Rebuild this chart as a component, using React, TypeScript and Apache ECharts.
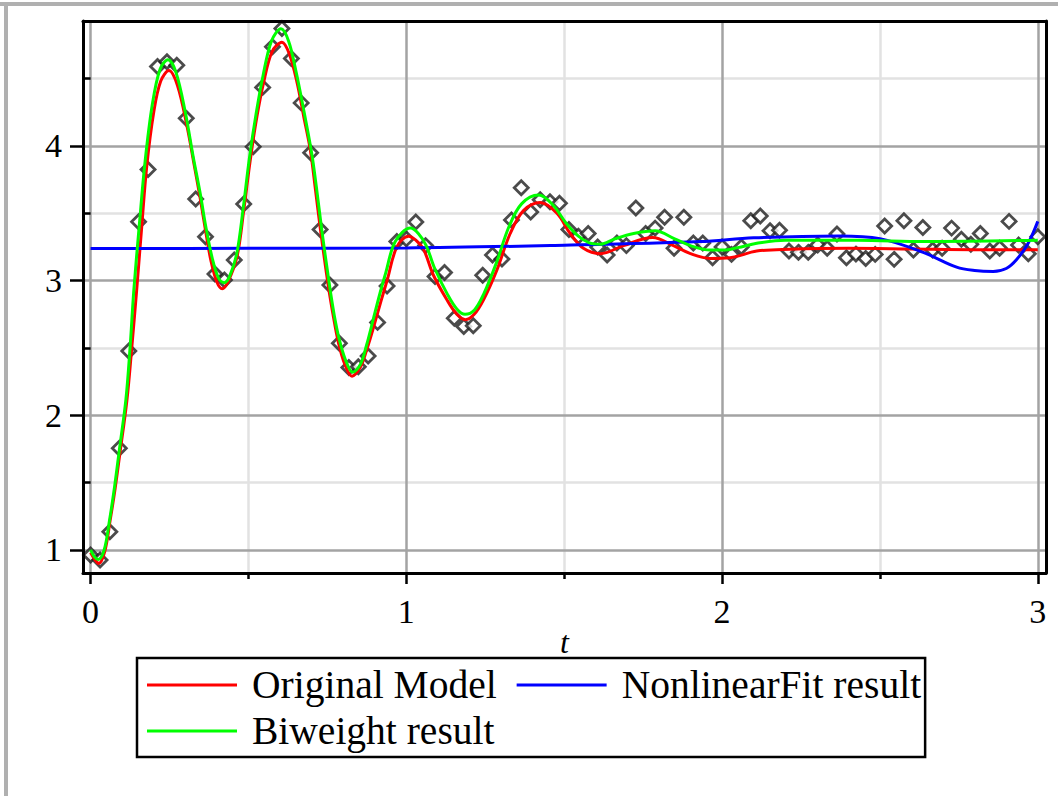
import React, { useEffect, useRef } from "react";
import * as echarts from "echarts";

// ---- data ----
const sampleT = [
  0, 0.03, 0.061, 0.091, 0.121, 0.152, 0.182, 0.212, 0.242, 0.273,
  0.303, 0.333, 0.364, 0.394, 0.424, 0.455, 0.485, 0.515, 0.545, 0.576,
  0.606, 0.636, 0.667, 0.697, 0.727, 0.758, 0.788, 0.818, 0.848, 0.879,
  0.909, 0.939, 0.97, 1.0, 1.03, 1.061, 1.091, 1.121, 1.152, 1.182,
  1.212, 1.242, 1.273, 1.303, 1.333, 1.364, 1.394, 1.424, 1.455, 1.485,
  1.515, 1.545, 1.576, 1.606, 1.636, 1.667, 1.697, 1.727, 1.758, 1.788,
  1.818, 1.848, 1.879, 1.909, 1.939, 1.97, 2.0, 2.03, 2.061, 2.091,
  2.121, 2.152, 2.182, 2.212, 2.242, 2.273, 2.303, 2.333, 2.364, 2.394,
  2.424, 2.455, 2.485, 2.515, 2.545, 2.576, 2.606, 2.636, 2.667, 2.697,
  2.727, 2.758, 2.788, 2.818, 2.848, 2.879, 2.909, 2.939, 2.97, 3.0,
];
const sampleY = [
  0.963, 0.926, 1.136, 1.755, 2.477, 3.437, 3.826, 4.59, 4.625, 4.6,
  4.205, 3.606, 3.326, 3.049, 3.004, 3.153, 3.569, 3.994, 4.435, 4.736,
  4.873, 4.65, 4.32, 3.95, 3.38, 2.967, 2.535, 2.355, 2.36, 2.44,
  2.69, 2.96, 3.29, 3.31, 3.435, 3.26, 3.03, 3.06, 2.72, 2.66,
  2.665, 3.04, 3.19, 3.16, 3.45, 3.69, 3.51, 3.6, 3.586, 3.574,
  3.38, 3.33, 3.35, 3.25, 3.19, 3.28, 3.26, 3.54, 3.35, 3.39,
  3.47, 3.24, 3.47, 3.28, 3.28, 3.17, 3.25, 3.195, 3.25, 3.445,
  3.48, 3.37, 3.375, 3.22, 3.21, 3.21, 3.264, 3.24, 3.346, 3.17,
  3.197, 3.165, 3.195, 3.405, 3.158, 3.445, 3.227, 3.395, 3.227, 3.24,
  3.39, 3.307, 3.27, 3.35, 3.22, 3.24, 3.44, 3.264, 3.2, 3.326,
];

const originalT = [
  0, 0.013, 0.026, 0.045, 0.062, 0.078, 0.093, 0.115, 0.13, 0.146,
  0.162, 0.178, 0.2, 0.222, 0.248, 0.275, 0.306, 0.328, 0.348, 0.365,
  0.381, 0.4, 0.417, 0.435, 0.464, 0.485, 0.506, 0.527, 0.548, 0.575,
  0.606, 0.63, 0.654, 0.675, 0.696, 0.712, 0.728, 0.753, 0.77, 0.785,
  0.805, 0.828, 0.855, 0.875, 0.897, 0.92, 0.939, 0.97, 1.007, 1.03,
  1.055, 1.086, 1.128, 1.16, 1.187, 1.215, 1.245, 1.287, 1.329, 1.371,
  1.424, 1.477, 1.519, 1.561, 1.614, 1.688, 1.78, 1.846, 1.9, 1.962,
  2.025, 2.11, 2.215, 2.4, 2.6, 2.8, 3.0,
];
const originalY = [
  0.98, 0.93, 0.9, 0.99, 1.22, 1.46, 1.72, 2.11, 2.49, 2.93,
  3.4, 3.85, 4.25, 4.48, 4.56, 4.45, 4.14, 3.86, 3.6, 3.36,
  3.15, 2.99, 2.94, 2.99, 3.18, 3.52, 3.9, 4.22, 4.47, 4.7,
  4.77, 4.68, 4.47, 4.22, 3.97, 3.68, 3.38, 2.96, 2.72, 2.54,
  2.38, 2.29, 2.36, 2.49, 2.66, 2.85, 3.0, 3.25, 3.33, 3.3,
  3.23, 3.04, 2.86, 2.75, 2.71, 2.75, 2.86, 3.08, 3.35, 3.52,
  3.58, 3.5, 3.35, 3.24, 3.2, 3.26, 3.32, 3.26, 3.2, 3.165,
  3.17, 3.22, 3.233, 3.24, 3.235, 3.23, 3.23,
];

const biweightT = [
  0, 0.012, 0.024, 0.043, 0.06, 0.076, 0.091, 0.112, 0.125, 0.137,
  0.155, 0.172, 0.195, 0.22, 0.245, 0.27, 0.3, 0.325, 0.347, 0.365,
  0.385, 0.405, 0.423, 0.44, 0.463, 0.483, 0.503, 0.525, 0.546, 0.573,
  0.603, 0.627, 0.65, 0.669, 0.7, 0.716, 0.732, 0.757, 0.772, 0.787,
  0.806, 0.83, 0.855, 0.874, 0.895, 0.917, 0.935, 0.965, 1.013, 1.038,
  1.063, 1.09, 1.13, 1.16, 1.186, 1.215, 1.245, 1.285, 1.325, 1.365,
  1.419, 1.465, 1.505, 1.545, 1.58, 1.614, 1.66, 1.72, 1.788, 1.85,
  1.9, 1.962, 2.004, 2.05, 2.11, 2.2, 2.43, 2.64, 3.0,
];
const biweightY = [
  1.0, 0.95, 0.93, 1.0, 1.22, 1.47, 1.74, 2.12, 2.5, 2.93,
  3.43, 3.87, 4.3, 4.57, 4.64, 4.55, 4.25, 3.92, 3.65, 3.4,
  3.17, 3.02, 2.985, 3.03, 3.2, 3.53, 3.91, 4.25, 4.52, 4.78,
  4.87, 4.78, 4.56, 4.34, 3.95, 3.68, 3.38, 2.96, 2.74, 2.57,
  2.42, 2.32, 2.38, 2.52, 2.71, 2.91, 3.06, 3.29, 3.39, 3.35,
  3.26, 3.09, 2.9, 2.79, 2.75, 2.78, 2.9, 3.13, 3.4, 3.57,
  3.635, 3.56, 3.43, 3.33, 3.28, 3.27, 3.31, 3.35, 3.37, 3.31,
  3.26, 3.227, 3.227, 3.245, 3.277, 3.3, 3.3, 3.29, 3.3,
];

const nonlinearT = [0, 0.5, 1.0, 1.5, 1.93, 2.1, 2.37, 2.5, 2.637, 2.743, 2.8, 2.859, 2.9, 2.933, 2.97, 3.0];
const nonlinearY = [3.238, 3.24, 3.243, 3.263, 3.29, 3.318, 3.332, 3.312, 3.21, 3.1, 3.075, 3.068, 3.09, 3.157, 3.28, 3.44];

const xMajorTicks = [0, 1, 2, 3];
const xMinorTicks = [0.5, 1.5, 2.5];
const yMajorTicks = [1, 2, 3, 4];
const yMinorTicks = [1.5, 2.5, 3.5, 4.5];

const legendNames = ["Original Model", "NonlinearFit result", "Biweight result"];

const X_MIN = -0.024;
const X_MAX = 3.026;
const Y_MIN = 0.829;
const Y_MAX = 4.928;

const FONT = "'Liberation Serif', 'Times New Roman', serif";

const pairs = (xs: number[], ys: number[]) => xs.map((x, i) => [x, ys[i]]);

export default function App() {
  const ref = useRef<HTMLDivElement>(null);

  useEffect(() => {
    if (!ref.current) return;
    const chart = echarts.init(ref.current, undefined, { renderer: "svg" });

    const baseX = { type: "value", min: X_MIN, max: X_MAX, z: 10 };
    const baseY = { type: "value", min: Y_MIN, max: Y_MAX, z: 10 };
    const frameLine = { show: true, onZero: false, lineStyle: { color: "#000", width: 3 } };
    const tickStyle = { color: "#000", width: 2.5 };

    const gridLineData = [
      ...xMinorTicks.map((v) => ({ xAxis: v, lineStyle: { color: "#e2e2e2", width: 2.5, type: "solid" } })),
      ...yMinorTicks.map((v) => ({ yAxis: v, lineStyle: { color: "#e2e2e2", width: 2.5, type: "solid" } })),
      ...xMajorTicks.map((v) => ({ xAxis: v, lineStyle: { color: "#a3a3a3", width: 2.5, type: "solid" } })),
      ...yMajorTicks.map((v) => ({ yAxis: v, lineStyle: { color: "#a3a3a3", width: 2.5, type: "solid" } })),
    ];

    const legendText = { fontFamily: FONT, fontSize: 39.5, color: "#000", padding: [0, 0, 0, 10] };
    const legendCommon = {
      orient: "horizontal",
      itemWidth: 90,
      itemHeight: 3,
      icon: "rect",
      selectedMode: false,
      textStyle: legendText,
    };

    chart.setOption({
      animation: false,
      backgroundColor: "#ffffff",
      graphic: [
        { type: "rect", shape: { x: 0, y: 2, width: 1058, height: 4 }, style: { fill: "#b0b0b0" }, silent: true },
        { type: "rect", shape: { x: 4, y: 2, width: 4, height: 794 }, style: { fill: "#b0b0b0" }, silent: true },
      ],
      grid: { left: 83, top: 21, right: 12, bottom: 223, containLabel: false },
      xAxis: [
        {
          ...baseX,
          position: "bottom",
          axisLine: frameLine,
          axisTick: { show: true, customValues: xMajorTicks, length: 11, lineStyle: tickStyle },
          axisLabel: {
            show: true,
            customValues: xMajorTicks,
            margin: 21,
            fontSize: 34,
            fontFamily: FONT,
            color: "#000",
            formatter: (v: number) => String(Math.round(v)),
          },
          splitLine: { show: false },
          name: "t",
          nameLocation: "middle",
          nameGap: 53,
          nameMoveOverlap: false,
          nameTextStyle: { fontFamily: FONT, fontStyle: "italic", fontSize: 32, color: "#000" },
        },
        {
          ...baseX,
          position: "bottom",
          axisLine: { show: false },
          axisTick: { show: true, customValues: xMinorTicks, length: 6, lineStyle: tickStyle },
          axisLabel: { show: false },
          splitLine: { show: false },
        },
        {
          ...baseX,
          position: "top",
          axisLine: frameLine,
          axisTick: { show: false },
          axisLabel: { show: false },
          splitLine: { show: false },
        },
      ],
      yAxis: [
        {
          ...baseY,
          position: "left",
          axisLine: frameLine,
          axisTick: { show: true, customValues: yMajorTicks, length: 13, lineStyle: tickStyle },
          axisLabel: {
            show: true,
            customValues: yMajorTicks,
            margin: 21,
            fontSize: 34,
            fontFamily: FONT,
            color: "#000",
            formatter: (v: number) => String(Math.round(v)),
          },
          splitLine: { show: false },
        },
        {
          ...baseY,
          position: "left",
          axisLine: { show: false },
          axisTick: { show: true, customValues: yMinorTicks, length: 6, lineStyle: tickStyle },
          axisLabel: { show: false },
          splitLine: { show: false },
        },
        {
          ...baseY,
          position: "right",
          axisLine: frameLine,
          axisTick: { show: false },
          axisLabel: { show: false },
          splitLine: { show: false },
        },
      ],
      legend: [
        {
          ...legendCommon,
          data: [legendNames[0], legendNames[1]],
          left: 137,
          top: 658,
          width: 1000,
          padding: [7, 4, 52, 10],
          itemGap: 20,
          borderColor: "#000",
          borderWidth: 2.5,
        },
        {
          ...legendCommon,
          data: [legendNames[2]],
          left: 137,
          top: 711,
          padding: [0, 0, 0, 10],
          itemGap: 20,
        },
      ],
      series: [
        {
          type: "scatter",
          name: "data",
          data: pairs(sampleT, sampleY),
          symbol: "diamond",
          symbolSize: 14,
          itemStyle: { color: "#ffffff", borderColor: "#1e1e1e", borderWidth: 2.8 },
          z: 3,
          markLine: {
            silent: true,
            symbol: ["none", "none"],
            label: { show: false },
            z: 1,
            data: gridLineData,
          },
        },
        {
          type: "line",
          name: legendNames[0],
          data: pairs(originalT, originalY),
          smooth: 0.35,
          showSymbol: false,
          symbol: "none",
          lineStyle: { color: "#ff0000", width: 3 },
          itemStyle: { color: "#ff0000" },
          z: 4,
        },
        {
          type: "line",
          name: legendNames[1],
          data: pairs(nonlinearT, nonlinearY),
          smooth: 0.35,
          showSymbol: false,
          symbol: "none",
          lineStyle: { color: "#0000ff", width: 3 },
          itemStyle: { color: "#0000ff" },
          z: 4,
        },
        {
          type: "line",
          name: legendNames[2],
          data: pairs(biweightT, biweightY),
          smooth: 0.35,
          showSymbol: false,
          symbol: "none",
          lineStyle: { color: "#00ff00", width: 3 },
          itemStyle: { color: "#00ff00" },
          z: 5,
        },
      ],
    });

    return () => {
      chart.dispose();
    };
  }, []);

  return (
    <div
      ref={ref}
      style={{ position: "absolute", left: 0, top: 0, width: 1058, height: 796, background: "#fff" }}
    />
  );
}
